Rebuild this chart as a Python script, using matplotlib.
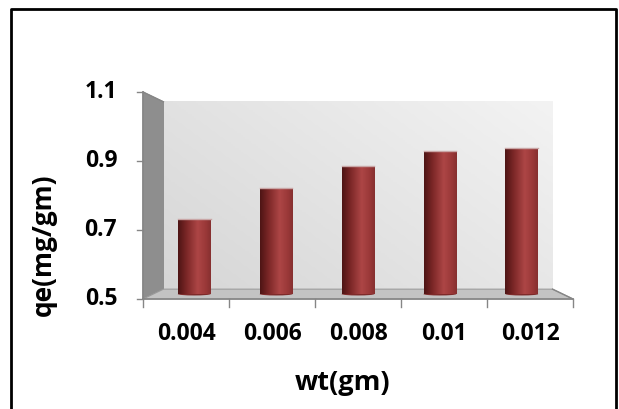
import numpy as np
import matplotlib
matplotlib.use("Agg")
import matplotlib.pyplot as plt
from matplotlib.patches import Polygon, Rectangle, Ellipse
from matplotlib.colors import LinearSegmentedColormap

# data
categories = ["0.004", "0.006", "0.008", "0.01", "0.012"]
qe = [0.727, 0.823, 0.89, 0.935, 0.945]
yticks = [0.5, 0.7, 0.9, 1.1]

plt.rcParams['font.family'] = ['Open Sans', 'DejaVu Sans']
plt.rcParams['font.weight'] = 'bold'

fig = plt.figure(figsize=(6.19, 4.09), dpi=100)
# outer chart border (bottom runs off the picture)
fig.add_artist(plt.Line2D([10.5/619, 10.5/619, 616/619, 616/619],
                          [0, 1 - 9/409, 1 - 9/409, 0],
                          transform=fig.transFigure, color='black', lw=2))

ax = fig.add_axes([143/619, 1 - 299/409, 430/619, 207/409])
n = len(categories)
ymin, ymax = 0.5, 1.1
ax.set_xlim(0, n)
ax.set_ylim(ymin, ymax)
ax.axis('off')

# simple perspective: shrink towards the centre for deeper planes
cx, cy = n / 2, (ymin + ymax) / 2
def proj(x, y, k):
    return cx + (x - cx) * k, cy + (y - cy) * k

k_back = 0.905
k_mid = 0.9525

# back wall with a soft gradient
bx0, by0 = proj(0, ymin, k_back)
bx1, by1 = proj(n, ymax, k_back)
gx, gy = np.meshgrid(np.linspace(0, 1, 200), np.linspace(0, 1, 100))
wall_cmap = LinearSegmentedColormap.from_list('wall', ['#d6d6d6', '#f3f3f3'])
ax.imshow(gx * 0.6 + gy * 0.4, extent=[bx0, bx1, by0, by1], origin='lower',
          cmap=wall_cmap, aspect='auto', zorder=0)

# left side wall
side = Polygon([(0, ymin), (bx0, by0), (bx0, by1), (0, ymax)], closed=True,
               facecolor='#8e8e8e', edgecolor='#8e8e8e', lw=0.8, zorder=1, clip_on=False)
ax.add_patch(side)
# floor
floor = Polygon([(0, ymin), (n, ymin), (bx1, by0), (bx0, by0)], closed=True,
                facecolor='#c3c3c3', edgecolor='#9a9a9a', lw=0.8, zorder=1, clip_on=False)
ax.add_patch(floor)

# cylinders
bar_cmap = LinearSegmentedColormap.from_list(
    'cyl', [(0, '#4e1515'), (0.25, '#7a2626'), (0.6, '#ad4646'), (0.85, '#9a3838'), (1, '#863030')])
grad = np.linspace(0, 1, 100).reshape(1, -1)
w = 0.40 * k_mid
base_y = proj(0, ymin, k_mid)[1]
for i, v in enumerate(qe):
    xc, top = proj(i + 0.5, v, k_mid)
    rect = Rectangle((xc - w / 2, base_y), w, top - base_y, facecolor='none',
                     edgecolor='none', zorder=3)
    ax.add_patch(rect)
    im = ax.imshow(grad, extent=[xc - w / 2, xc + w / 2, base_y - 0.004, top],
                   cmap=bar_cmap, aspect='auto', zorder=3)
    im.set_clip_path(rect)
    # rounded bottom and thin top rim
    ax.add_patch(Ellipse((xc, base_y), w, 0.008, facecolor='#7e2a2a', edgecolor='none', zorder=2.9))
    ax.plot([xc - w / 2, xc + w / 2], [top, top], color='#c9a6a6', lw=1.0, zorder=3.1)

# front axes lines and ticks
axis_col = '#868686'
ax.plot([0, 0], [ymin, ymax], color=axis_col, lw=1.2, clip_on=False, zorder=4)
ax.plot([0, n], [ymin, ymin], color=axis_col, lw=1.2, clip_on=False, zorder=4)
ax.plot([0, bx0], [ymax, by1], color=axis_col, lw=1.0, clip_on=False, zorder=4)
ax.plot([n, bx1], [ymin, by0], color=axis_col, lw=1.0, clip_on=False, zorder=4)
for t in yticks:
    ax.plot([-0.07, 0], [t, t], color=axis_col, lw=1.0, clip_on=False, zorder=4)
    ax.text(-0.3, t, f"{t:g}", ha='right', va='center', fontsize=16.5, fontweight='bold')
for i in range(n + 1):
    ax.plot([i, i], [ymin, ymin - 0.022], color=axis_col, lw=1.0, clip_on=False, zorder=4)
for i, c in enumerate(categories):
    ax.text(i + 0.5, ymin - 0.1, c, ha='center', va='center', fontsize=16.5, fontweight='bold')

fig.text(343/619, 1 - 383/409, "wt(gm)", ha='center', va='center', fontsize=19.5, fontweight='bold')
fig.text(43/619, 1 - 245/409, "qe(mg/gm)", ha='center', va='center', rotation=90,
         fontsize=19, fontweight='bold')

fig.savefig("out.png", dpi=100)
